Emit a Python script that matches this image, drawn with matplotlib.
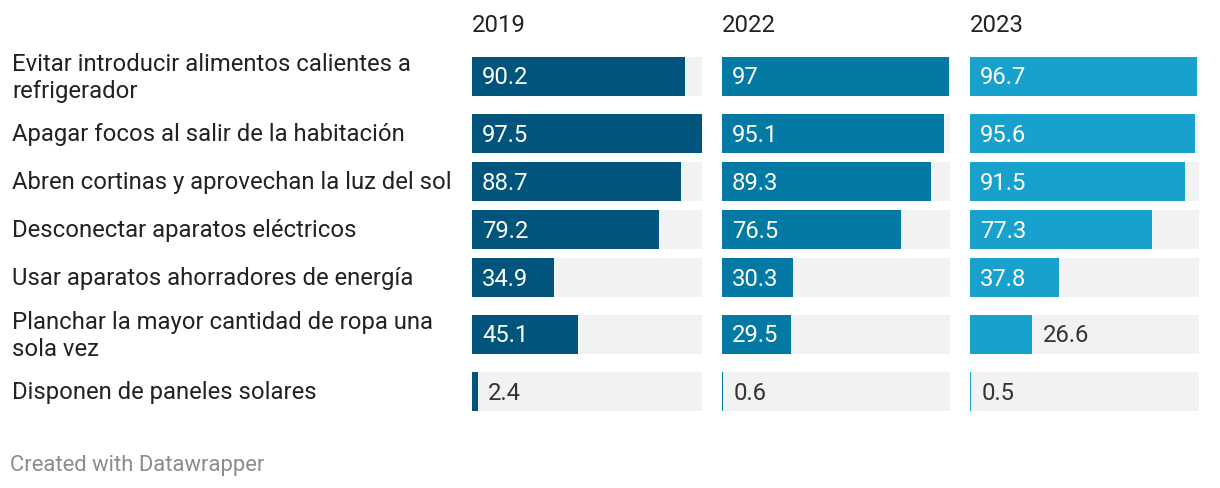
import matplotlib.pyplot as plt

plt.rcParams['font.family'] = ['Roboto', 'DejaVu Sans']

categories = [
    "Evitar introducir alimentos calientes a\nrefrigerador",
    "Apagar focos al salir de la habitación",
    "Abren cortinas y aprovechan la luz del sol",
    "Desconectar aparatos eléctricos",
    "Usar aparatos ahorradores de energía",
    "Planchar la mayor cantidad de ropa una\nsola vez",
    "Disponen de paneles solares",
]
years = ["2019", "2022", "2023"]
v2019 = [90.2, 97.5, 88.7, 79.2, 34.9, 45.1, 2.4]
v2022 = [97, 95.1, 89.3, 76.5, 30.3, 29.5, 0.6]
v2023 = [96.7, 95.6, 91.5, 77.3, 37.8, 26.6, 0.5]
series = [v2019, v2022, v2023]

colors = ["#01547b", "#0379a3", "#19a1ce"]
W, H = 1220, 488
fig = plt.figure(figsize=(W / 100, H / 100), dpi=100)

# row centres in pixels, extra room for two-line labels
centers = []
y = 76
for i, c in enumerate(categories):
    if i > 0:
        prev2 = categories[i - 1].count("\n")
        cur2 = c.count("\n")
        y += 48 + 9 * (prev2 + cur2)
    centers.append(y)

panels = [(472, 230), (722, 228), (970, 229)]
xmax = max(max(s) for s in series)
bar_h = 39
fs = 17.2

for year, vals, col, (left, width) in zip(years, series, colors, panels):
    ax = fig.add_axes([left / W, 0, width / W, 1])
    ax.set_xlim(0, xmax)
    ax.set_ylim(H, 0)
    ax.axis("off")
    ax.barh(centers, [xmax] * len(vals), height=bar_h, color="#f2f2f2", linewidth=0)
    ax.barh(centers, vals, height=bar_h, color=col, linewidth=0)
    px = xmax / width  # data units per pixel
    for yc, v in zip(centers, vals):
        if v >= 28:
            ax.text(10 * px, yc + 2, f"{v:g}", color="white", fontsize=fs,
                    va="center", ha="left")
        else:
            ax.text(v + 10 * px, yc + 2, f"{v:g}", color="#333333", fontsize=fs,
                    va="center", ha="left")
    fig.text(left / W, 1 - 25 / H, year, fontsize=fs, color="#222222",
             va="center", ha="left")

for yc, c in zip(centers, categories):
    fig.text(12 / W, 1 - (yc + 2) / H, c, fontsize=fs, color="#222222",
             va="center", ha="left", linespacing=1.17)

fig.text(10 / W, 1 - 466 / H, "Created with Datawrapper", fontsize=15.8,
         color="#8c8c8c", va="center", ha="left")

fig.savefig("out.png", dpi=100, facecolor="white")
